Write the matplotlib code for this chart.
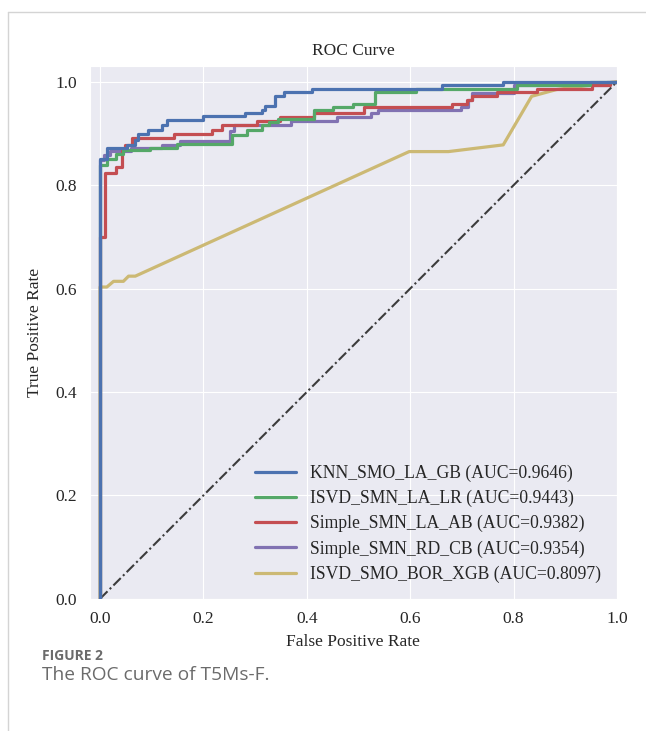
import matplotlib
matplotlib.use("Agg")
import matplotlib.pyplot as plt
import seaborn as sns
from matplotlib.lines import Line2D

sns.set_style("darkgrid")
plt.rcParams["font.family"] = ["Liberation Serif", "DejaVu Serif"]

# ROC curve points
knn_fpr = [0.0, 0.0, 0.013, 0.013, 0.052, 0.052, 0.068, 0.068, 0.074, 0.074, 0.093, 0.093,
           0.119, 0.119, 0.129, 0.129, 0.2, 0.2, 0.28, 0.28, 0.313, 0.313, 0.319, 0.319,
           0.339, 0.339, 0.355, 0.355, 0.41, 0.41, 0.661, 0.661, 0.78, 0.78, 1.0]
knn_tpr = [0.0, 0.85, 0.85, 0.872, 0.872, 0.878, 0.878, 0.888, 0.888, 0.899, 0.899, 0.906,
           0.906, 0.917, 0.917, 0.927, 0.927, 0.933, 0.933, 0.939, 0.939, 0.946, 0.946, 0.954,
           0.954, 0.972, 0.972, 0.980, 0.980, 0.986, 0.986, 0.993, 0.993, 1.0, 1.0]

isvd_lr_fpr = [0.0, 0.0, 0.013, 0.013, 0.03, 0.03, 0.045, 0.045, 0.097, 0.097, 0.148, 0.148,
               0.255, 0.255, 0.284, 0.284, 0.313, 0.313, 0.326, 0.326, 0.345, 0.345, 0.413,
               0.413, 0.451, 0.451, 0.49, 0.49, 0.532, 0.532, 0.612, 0.612, 0.806, 0.806,
               0.948, 0.948, 1.0]
isvd_lr_tpr = [0.0, 0.839, 0.839, 0.85, 0.85, 0.86, 0.86, 0.868, 0.868, 0.872, 0.872, 0.880,
               0.880, 0.897, 0.897, 0.907, 0.907, 0.917, 0.917, 0.923, 0.923, 0.929, 0.929,
               0.946, 0.946, 0.952, 0.952, 0.958, 0.958, 0.980, 0.980, 0.986, 0.986, 0.993,
               0.993, 1.0, 1.0]

simple_ab_fpr = [0.0, 0.0, 0.010, 0.010, 0.03, 0.03, 0.042, 0.042, 0.048, 0.048, 0.061, 0.061,
                 0.142, 0.142, 0.216, 0.216, 0.235, 0.235, 0.303, 0.303, 0.348, 0.348, 0.413,
                 0.413, 0.51, 0.51, 0.68, 0.68, 0.709, 0.709, 0.719, 0.719, 0.767, 0.767,
                 0.845, 0.845, 0.951, 0.951, 0.986, 0.986, 1.0]
simple_ab_tpr = [0.0, 0.70, 0.70, 0.823, 0.823, 0.835, 0.835, 0.868, 0.868, 0.878, 0.878, 0.891,
                 0.891, 0.899, 0.899, 0.906, 0.906, 0.917, 0.917, 0.925, 0.925, 0.932, 0.932,
                 0.939, 0.939, 0.952, 0.952, 0.958, 0.958, 0.965, 0.965, 0.973, 0.973, 0.980,
                 0.980, 0.986, 0.986, 0.993, 0.993, 1.0, 1.0]

simple_cb_fpr = [0.0, 0.0, 0.008, 0.008, 0.019, 0.019, 0.06, 0.06, 0.119, 0.119, 0.155, 0.155,
                 0.251, 0.251, 0.26, 0.26, 0.37, 0.37, 0.458, 0.458, 0.525, 0.525, 0.538,
                 0.538, 0.699, 0.699, 0.712, 0.712, 0.72, 0.72, 0.80, 0.80, 0.98, 0.98, 1.0]
simple_cb_tpr = [0.0, 0.849, 0.849, 0.859, 0.859, 0.867, 0.867, 0.872, 0.872, 0.878, 0.878, 0.886,
                 0.886, 0.904, 0.904, 0.917, 0.917, 0.925, 0.925, 0.932, 0.932, 0.939, 0.939,
                 0.946, 0.946, 0.952, 0.952, 0.965, 0.965, 0.978, 0.978, 0.993, 0.993, 1.0, 1.0]

isvd_xgb_fpr = [0.0, 0.0, 0.013, 0.026, 0.045, 0.055, 0.068, 0.598, 0.674, 0.78, 0.835, 0.883, 1.0]
isvd_xgb_tpr = [0.0, 0.603, 0.603, 0.614, 0.614, 0.624, 0.624, 0.865, 0.865, 0.878, 0.972, 0.985, 1.0]

labels = ["KNN_SMO_LA_GB (AUC=0.9646)", "ISVD_SMN_LA_LR (AUC=0.9443)",
          "Simple_SMN_LA_AB (AUC=0.9382)", "Simple_SMN_RD_CB (AUC=0.9354)",
          "ISVD_SMO_BOR_XGB (AUC=0.8097)"]
colors = ["#4C72B0", "#55A868", "#C44E52", "#8172B2", "#CCB974"]
curves = [(knn_fpr, knn_tpr), (isvd_lr_fpr, isvd_lr_tpr), (simple_ab_fpr, simple_ab_tpr),
          (simple_cb_fpr, simple_cb_tpr), (isvd_xgb_fpr, isvd_xgb_tpr)]

fig = plt.figure(figsize=(6.46, 7.31), dpi=100)
ax = fig.add_axes([0.139, 0.181, 0.816, 0.729])

# draw back to front so blue ends on top
for i in [4, 3, 2, 1, 0]:
    f, t = curves[i]
    ax.plot(f, t, color=colors[i], lw=2.3, label=labels[i], zorder=3 + (4 - i))
ax.plot([0, 1], [0, 1], color="#3c3c3c", ls=(0, (5, 1.5, 1, 1.5)), lw=1.5, zorder=2)

ax.set_xlim(-0.02, 1.0)
ax.set_ylim(0.0, 1.031)
ax.set_xticks([0.0, 0.2, 0.4, 0.6, 0.8, 1.0])
ax.set_yticks([0.0, 0.2, 0.4, 0.6, 0.8, 1.0])
ax.tick_params(labelsize=12.5, length=0, pad=9)
ax.set_title("ROC Curve", fontsize=12.5, pad=8)
ax.set_xlabel("False Positive Rate", fontsize=12.5, labelpad=5)
ax.set_ylabel("True Positive Rate", fontsize=12.5, labelpad=9)

handles, labs = ax.get_legend_handles_labels()
hmap = dict(zip(labs, handles))
ax.legend([hmap[l] for l in labels], labels, loc="lower right", fontsize=12.7,
          frameon=False, labelspacing=0.45, handlelength=2.3, handletextpad=0.8,
          borderaxespad=0.5)

# page border and caption
fig.add_artist(Line2D([8 / 646, 1], [1 - 12 / 731, 1 - 12 / 731], color="#d4d4d4", lw=1))
fig.add_artist(Line2D([8 / 646, 8 / 646], [0, 1 - 12 / 731], color="#d4d4d4", lw=1))
fig.text(42 / 646, 1 - 656 / 731, "FIGURE 2", family="Open Sans", fontsize=10,
         fontweight="bold", color="#6b6b6b", va="center")
fig.text(42 / 646, 1 - 675 / 731, "The ROC curve of T5Ms-F.", family="Open Sans",
         fontsize=13.8, color="#6b6b6b", va="center")

fig.savefig("out.png", dpi=100)
